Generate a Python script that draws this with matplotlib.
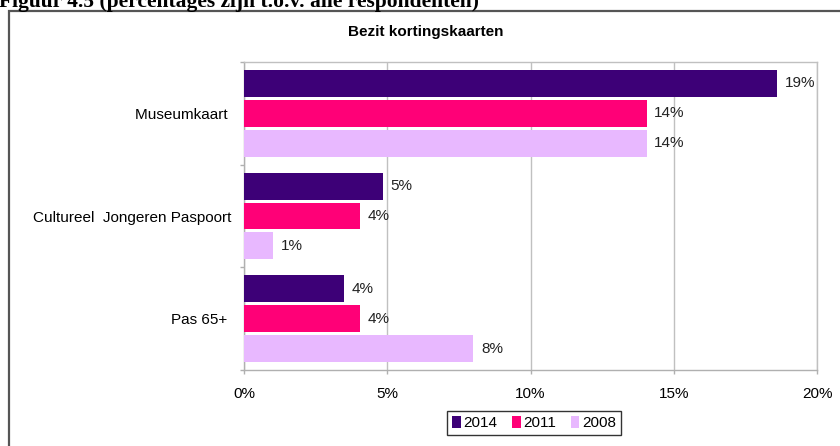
import matplotlib
matplotlib.use("Agg")
import matplotlib.pyplot as plt
from matplotlib.patches import Rectangle
import numpy as np

categories = ["Museumkaart", "Cultureel  Jongeren Paspoort", "Pas 65+"]
series_names = ["2014", "2011", "2008"]
values_2014 = [18.6, 4.85, 3.5]
values_2011 = [14.05, 4.05, 4.05]
values_2008 = [14.05, 1.0, 8.0]
colors = ["#3d0077", "#ff0077", "#e8b8ff"]
xticks = [0, 5, 10, 15, 20]

plt.rcParams['font.family'] = ['Liberation Sans', 'DejaVu Sans']

W, H = 840, 446
fig = plt.figure(figsize=(W / 100, H / 100), dpi=100)

def fx(px):
    return px / W

def fy(py):
    return 1 - py / H

# outer frame
frame = Rectangle((fx(9), fy(460)), fx(860) - fx(9), fy(11) - fy(460),
                  transform=fig.transFigure, fill=False, edgecolor="#555555",
                  linewidth=1.6, clip_on=False)
fig.add_artist(frame)

# cut-off figure caption at top
fig.text(fx(-1), fy(7), "Figuur 4.5 (percentages zijn t.o.v. alle respondenten)",
         family="Liberation Serif", fontweight="bold", fontsize=15.5,
         va="baseline", ha="left")

fig.text(fx(426), fy(32), "Bezit kortingskaarten", ha="center", va="center",
         fontsize=11, fontweight="bold")

ax = fig.add_axes([fx(244), fy(370), fx(817) - fx(244), fy(62) - fy(370)])

all_vals = [values_2014, values_2011, values_2008]
n = len(categories)
step = 0.291
height = 0.262
for i, (name, vals, c) in enumerate(zip(series_names, all_vals, colors)):
    ys = np.arange(n) + (i - 1) * step
    ax.barh(ys, vals, height=height, color=c, label=name, zorder=3)
    for y, v in zip(ys, vals):
        ax.text(v + 0.27, y, f"{v:.0f}%", va="center", ha="left", fontsize=11,
                color="#222222", zorder=4)

display_labels = [categories[0] + " ", categories[1], categories[2] + " "]

ax.set_xlim(0, 20)
ax.set_ylim(n - 0.5, -0.5)
ax.set_xticks(xticks)
ax.set_xticklabels([f"{t}%" for t in xticks], fontsize=11)
ax.set_yticks(np.arange(n))
ax.set_yticklabels(display_labels, fontsize=11)
ax.set_yticks(np.arange(n + 1) - 0.5, minor=True)
ax.tick_params(axis="y", which="major", length=0, pad=9)
ax.tick_params(axis="y", which="minor", length=3, color="#b0b0b0", width=1)
ax.tick_params(axis="x", which="major", length=3, color="#b0b0b0", width=1, pad=9)
ax.grid(axis="x", color="#c0c0c0", linewidth=1, zorder=0)
for s in ax.spines.values():
    s.set_color("#c0c0c0")
    s.set_linewidth(1)
ax.spines["left"].set_color("#b0b0b0")
ax.spines["bottom"].set_color("#b0b0b0")

leg = fig.legend(loc="center", bbox_to_anchor=(fx(534), fy(423)), ncol=3,
                 frameon=True, fancybox=False, edgecolor="black", fontsize=11,
                 handlelength=0.55, handleheight=0.8, handletextpad=0.15,
                 columnspacing=1.0, borderpad=0.35)
leg.get_frame().set_linewidth(1)

fig.savefig("out.png", dpi=100)
